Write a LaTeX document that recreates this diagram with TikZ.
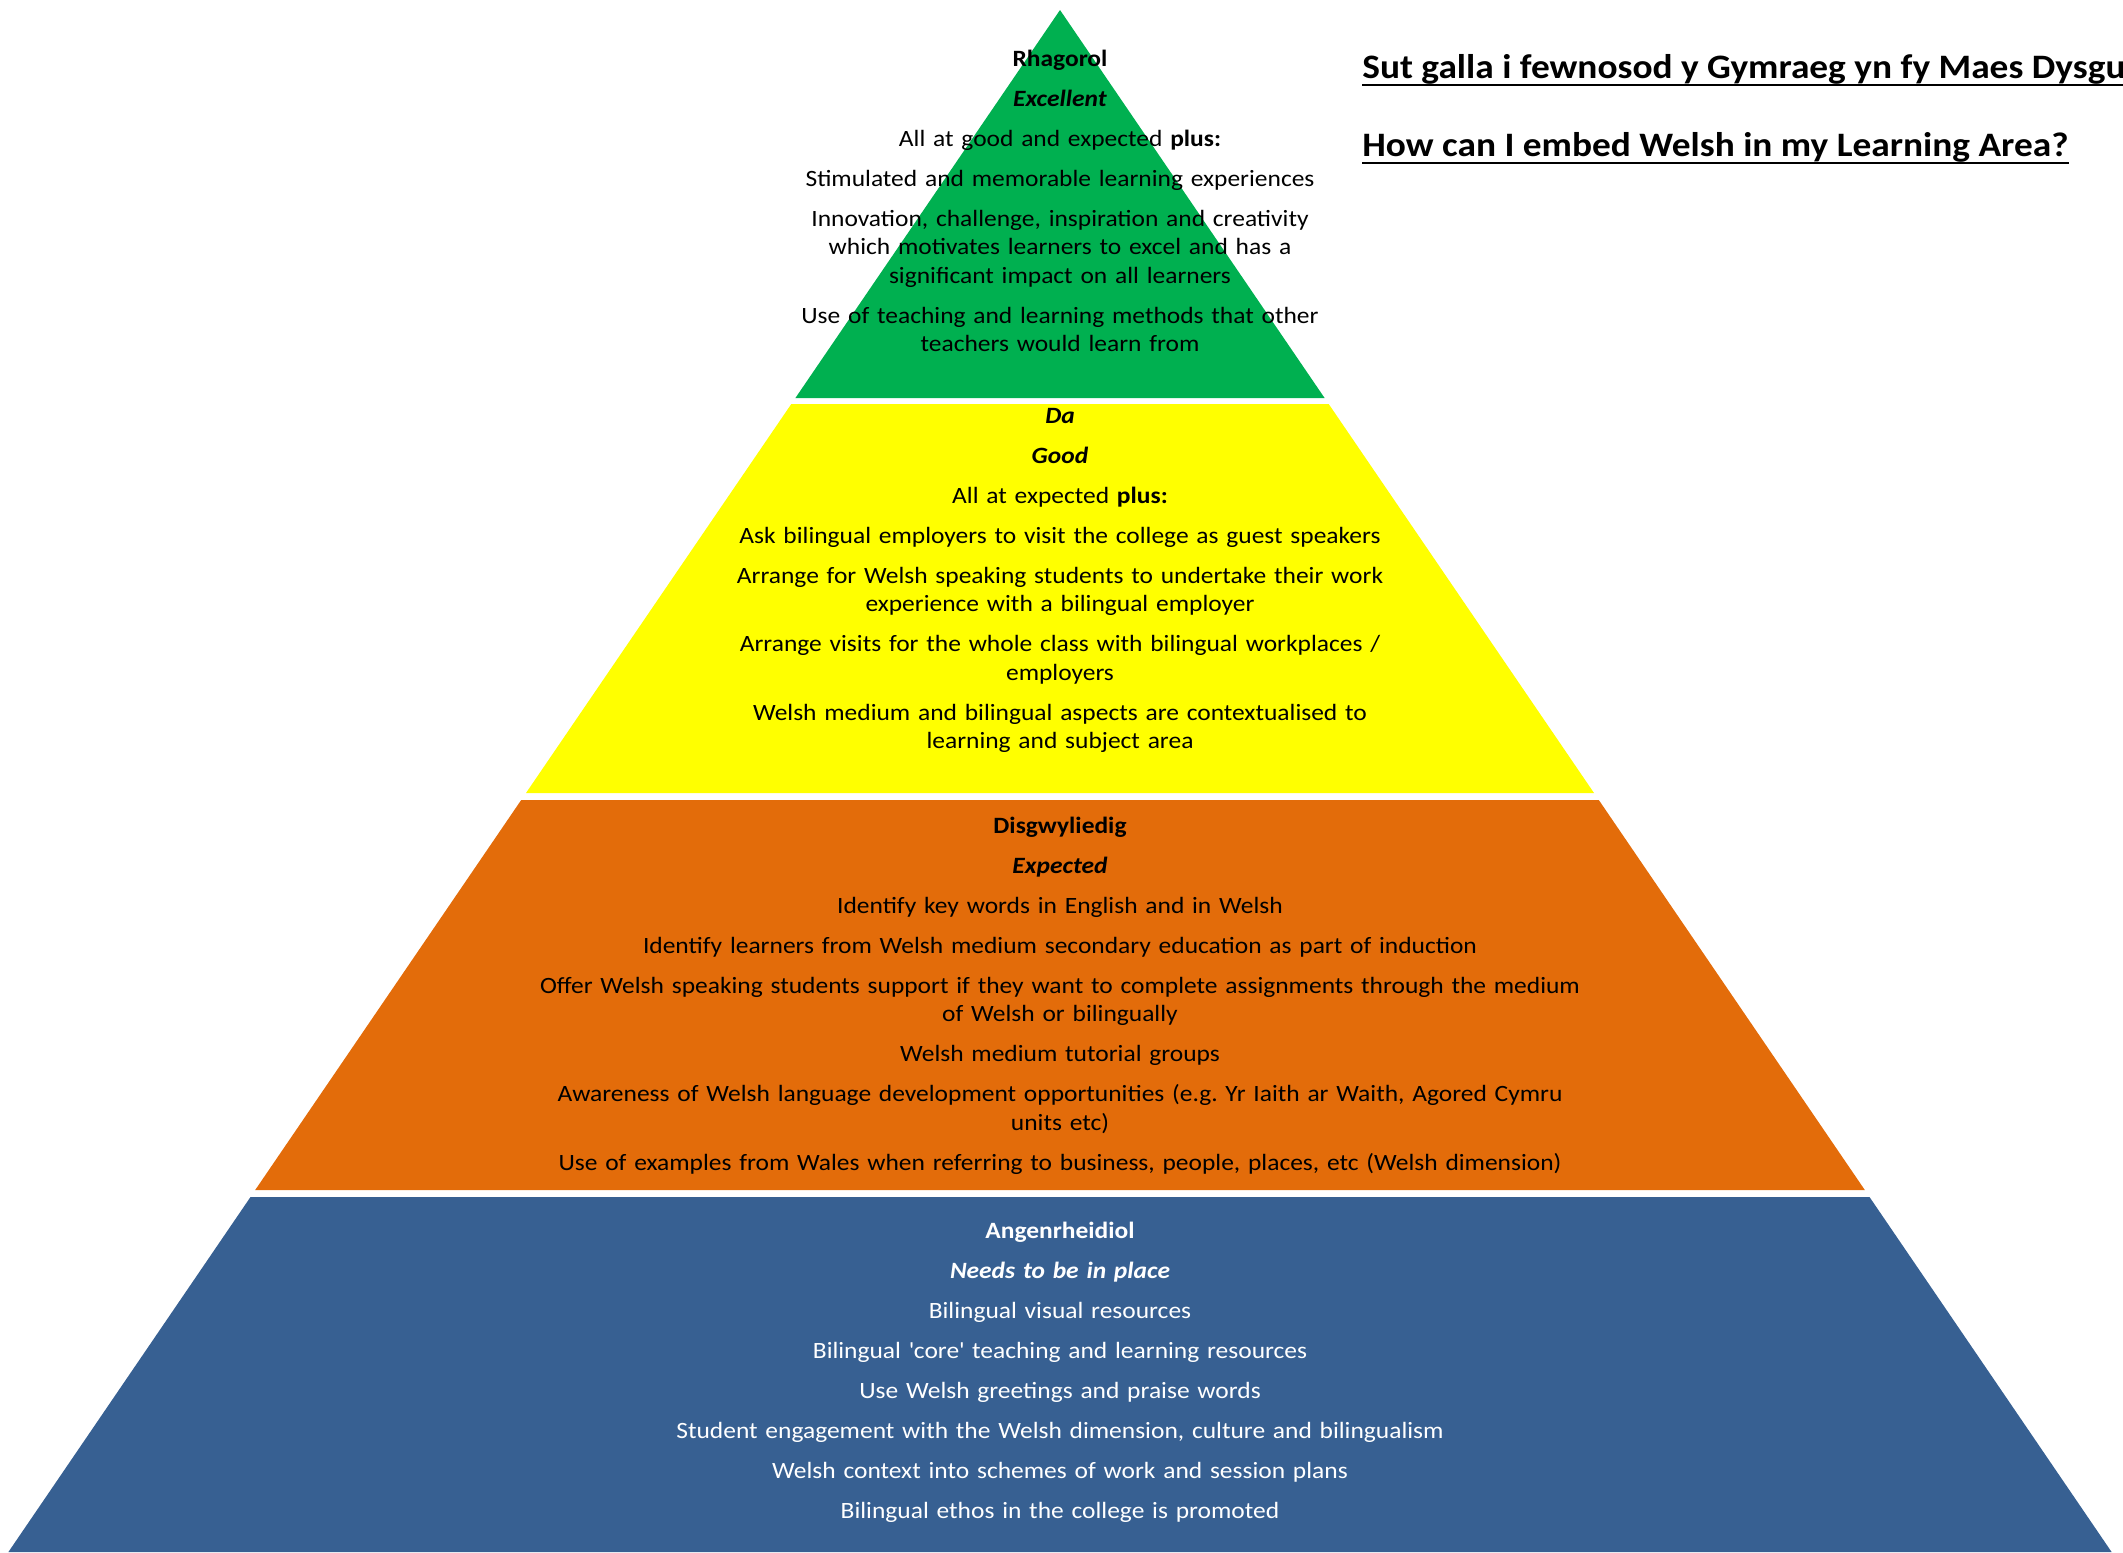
\documentclass[tikz,border=0pt]{standalone}
\usepackage{fontspec}
\setmainfont{Carlito}[FakeStretch=1.09]
\usepackage{tikz}
\usetikzlibrary{positioning}
\usepackage{xcolor}

\definecolor{rhagGreen}{HTML}{00B050}
\definecolor{daYellow}{HTML}{FFFF00}
\definecolor{disgOrange}{HTML}{E36C0A}
\definecolor{angBlue}{HTML}{376092}

\tikzset{
  tier/.style={anchor=base, inner sep=0pt, align=center, text width=700pt,
    font=\fontsize{13.3}{16.2}\selectfont},
  heading/.style={anchor=base west, inner sep=0pt,
    font=\fontsize{19.5}{23}\selectfont\bfseries},
  uline/.style={line width=1.5pt}
}
\newcommand{\itemgap}{\\[6.6pt]}

\begin{document}
\begin{tikzpicture}[x=0.02cm,y=-0.02cm]
\useasboundingbox (0,0) rectangle (2123,1552);
\clip (0,0) rectangle (2123,1552);

% the four tiers
\fill[rhagGreen] (1060,10)--(1324.6,398)--(795.4,398)--cycle;
\fill[daYellow] (791.3,404)--(1328.7,404)--(1594,793)--(526,793)--cycle;
\fill[disgOrange] (521.2,800)--(1598.8,800)--(1864.8,1190)--(255.2,1190)--cycle;
\fill[angBlue] (250.5,1197)--(1869.5,1197)--(2111.6,1552)--(8.4,1552)--cycle;

\node[tier] (rhagorol) at (1060,66) {\textbf{Rhagorol}\itemgap
\textbf{\textit{Excellent}}\itemgap
All at good and expected \textbf{plus:}\itemgap
Stimulated and memorable learning experiences\itemgap
Innovation, challenge, inspiration and creativity\\
which motivates learners to excel and has a\\
significant impact on all learners\itemgap
Use of teaching and learning methods that other\\
teachers would learn from};

\node[tier] (da) at (1060,423) {\textbf{\textit{Da}}\itemgap
\textbf{\textit{Good}}\itemgap
All at expected \textbf{plus:}\itemgap
Ask bilingual employers to visit the college as guest speakers\itemgap
Arrange for Welsh speaking students to undertake their work\\
experience with a bilingual employer\itemgap
Arrange visits for the whole class with bilingual workplaces /\\
employers\itemgap
Welsh medium and bilingual aspects are contextualised to\\
learning and subject area};

\node[tier] (disgwyliedig) at (1060,833) {\textbf{Disgwyliedig}\itemgap
\textbf{\textit{Expected}}\itemgap
Identify key words in English and in Welsh\itemgap
Identify learners from Welsh medium secondary education as part of induction\itemgap
Offer Welsh speaking students support if they want to complete assignments through the medium\\
of Welsh or bilingually\itemgap
Welsh medium tutorial groups\itemgap
Awareness of Welsh language development opportunities (e.g.\ Yr Iaith ar Waith, Agored Cymru\\
units etc)\itemgap
Use of examples from Wales when referring to business, people, places, etc (Welsh dimension)};

\node[tier, text=white] (angenrheidiol) at (1060,1238) {\textbf{Angenrheidiol}\itemgap
\textbf{\textit{Needs to be in place}}\itemgap
Bilingual visual resources\itemgap
Bilingual \textquotesingle core\textquotesingle{} teaching and learning resources\itemgap
Use Welsh greetings and praise words\itemgap
Student engagement with the Welsh dimension, culture and bilingualism\itemgap
Welsh context into schemes of work and session plans\itemgap
Bilingual ethos in the college is promoted};

% title
\node[heading] (titleCy) at (1362,78) {Sut galla i fewnosod y Gymraeg yn fy Maes Dysgu};
\node[heading] (titleEn) at (1362,156) {How can I embed Welsh in my Learning Area?};
\draw[uline] ([yshift=-4pt]titleCy.base west)--([yshift=-4pt]titleCy.base east);
\draw[uline] ([yshift=-4pt]titleEn.base west)--([yshift=-4pt]titleEn.base east);
\end{tikzpicture}
\end{document}
